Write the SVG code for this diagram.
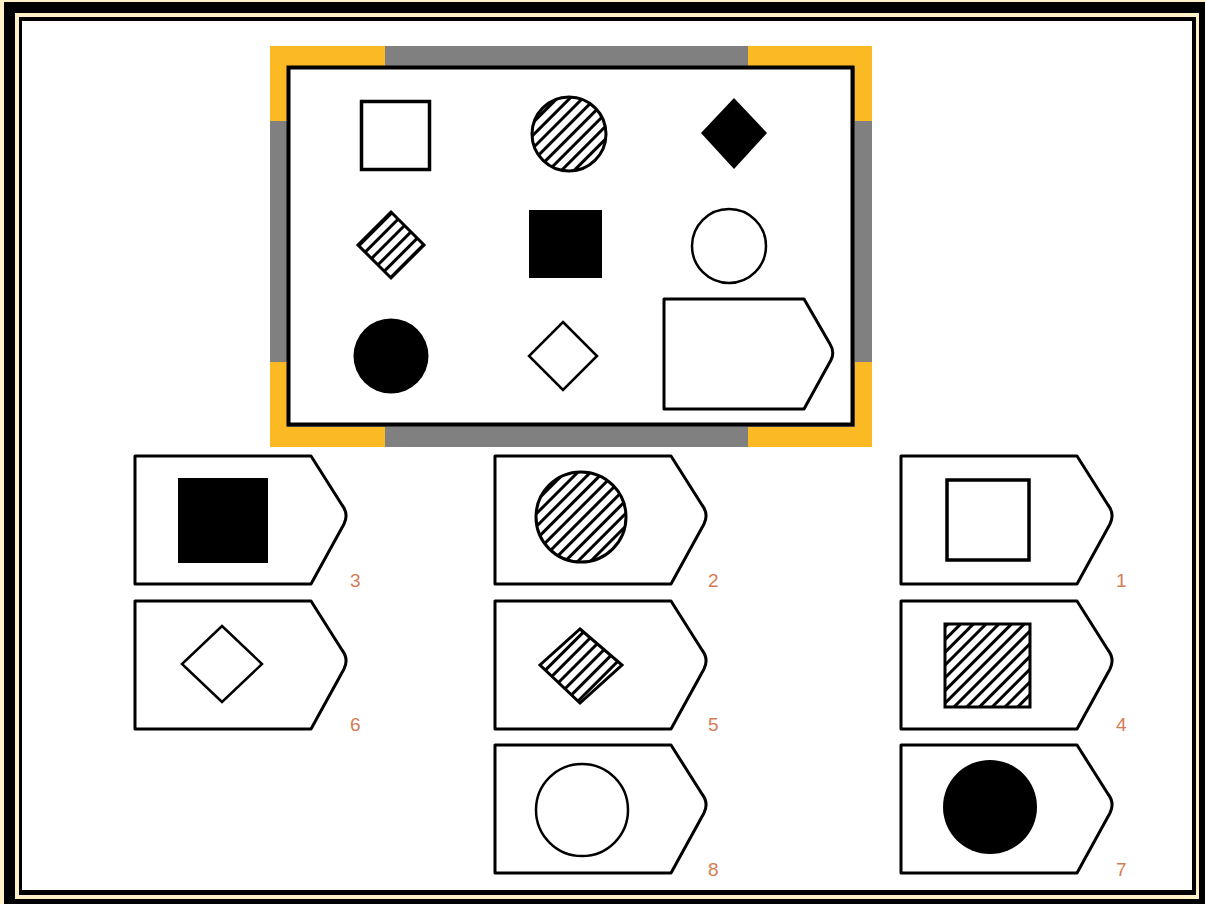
<svg xmlns="http://www.w3.org/2000/svg" width="1205" height="904" viewBox="0 0 1205 904">
<style>
.ol{fill:none;stroke:#000;stroke-width:3.5}
.tag{fill:#fff;stroke:#000;stroke-width:3;stroke-linejoin:round}
.blk{fill:#000}
.hat{fill:url(#hatch);stroke:#000;stroke-width:3}
.wh{fill:#fff;stroke:#000;stroke-width:2.5}
.lbl{font-family:"Liberation Sans",Arial,sans-serif;font-size:19px;fill:#D47C55}
</style>
<defs>
<pattern id="hatch" patternUnits="userSpaceOnUse" width="9" height="9" patternTransform="rotate(-45)">
<rect width="9" height="9" fill="#fff"/>
<line x1="0" y1="4.5" x2="9" y2="4.5" stroke="#000" stroke-width="3"/>
</pattern>
<path id="tagS" d="M0,0 H176 L207,49 Q214,58 209,68 L176,128 H0 Z"/>
</defs>
<!-- outer frame -->
<rect x="0" y="0" width="1205" height="904" fill="#FFF0C8"/>
<rect x="4" y="2" width="1201" height="902" fill="#000"/>
<rect x="15" y="13" width="1184" height="886" fill="#FFF0C8"/>
<rect x="19" y="17" width="1177" height="878" fill="#000"/>
<rect x="22" y="21" width="1170" height="869" fill="#fff"/>

<g id="puzzle">
<rect x="270" y="46" width="602" height="401" fill="#808080"/>
<rect x="270" y="46" width="115" height="20" fill="#FBB924"/>
<rect x="270" y="46" width="17" height="75" fill="#FBB924"/>
<rect x="748" y="46" width="124" height="20" fill="#FBB924"/>
<rect x="855" y="46" width="17" height="75" fill="#FBB924"/>
<rect x="270" y="427" width="115" height="20" fill="#FBB924"/>
<rect x="270" y="362" width="17" height="85" fill="#FBB924"/>
<rect x="748" y="427" width="124" height="20" fill="#FBB924"/>
<rect x="855" y="362" width="17" height="85" fill="#FBB924"/>
<rect x="288.5" y="67.5" width="564" height="357" fill="#fff" stroke="#000" stroke-width="4"/>

<rect x="361.5" y="101.5" width="68" height="68" class="ol"/>
<circle cx="569" cy="134" r="37" class="hat"/>
<polygon points="734,98 767,133 734,169 701,133" class="blk"/>

<polygon points="391,212 424,245 391,278 358,245" class="hat" stroke-width="2.5"/>
<rect x="529" y="210" width="73" height="68" class="blk"/>
<circle cx="729" cy="246" r="37" class="wh"/>

<circle cx="391" cy="356" r="37.5" class="blk"/>
<polygon points="563,322 597,356 563,390 529,356" class="wh"/>
<path d="M664,299 H804 L830,344 Q835,352 831,360 L804,409 H664 Z" class="tag" stroke-width="3.5"/>
</g>

<g id="opt3"><use href="#tagS" x="135" y="456" class="tag"/><rect x="178" y="478" width="90" height="85" class="blk"/><text x="350" y="587" class="lbl">3</text></g>
<g id="opt2"><use href="#tagS" x="495" y="456" class="tag"/><circle cx="581" cy="517" r="45" class="hat"/><text x="708" y="587" class="lbl">2</text></g>
<g id="opt1"><use href="#tagS" x="901" y="456" class="tag"/><rect x="947" y="480" width="82" height="80" class="ol" stroke-width="3"/><text x="1116" y="587" class="lbl">1</text></g>

<g id="opt6"><use href="#tagS" x="135" y="601" class="tag"/><polygon points="222,626 262,664 222,702 182,664" class="wh"/><text x="350" y="731" class="lbl">6</text></g>
<g id="opt5"><use href="#tagS" x="495" y="601" class="tag"/><polygon points="580,629 622,665 580,703 540,665" class="hat" stroke-width="2.5"/><text x="708" y="731" class="lbl">5</text></g>
<g id="opt4"><use href="#tagS" x="901" y="601" class="tag"/><rect x="945" y="624" width="85" height="83" class="hat"/><text x="1116" y="731" class="lbl">4</text></g>

<g id="opt8"><use href="#tagS" x="495" y="745" class="tag"/><circle cx="582" cy="810" r="46" class="wh"/><text x="708" y="876" class="lbl">8</text></g>
<g id="opt7"><use href="#tagS" x="901" y="745" class="tag"/><circle cx="990" cy="807" r="47" class="blk"/><text x="1116" y="876" class="lbl">7</text></g>

<g id="connectors"></g>
</svg>
